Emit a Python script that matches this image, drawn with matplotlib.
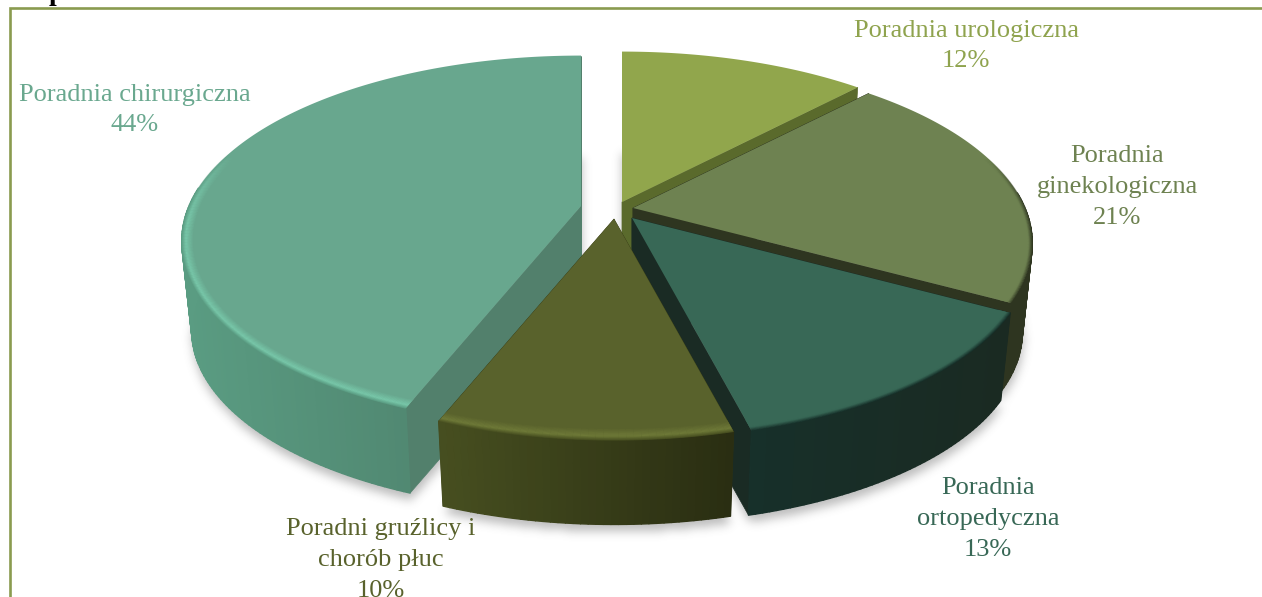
import numpy as np
import matplotlib
matplotlib.use('Agg')
import matplotlib.pyplot as plt
from matplotlib.collections import PolyCollection, LineCollection
from matplotlib.colors import to_rgb
from matplotlib.path import Path

# Dane (kolejnosc zgodnie z ruchem wskazowek zegara od godz. 12)
names = ['Poradnia urologiczna', 'Poradnia\nginekologiczna', 'Poradnia\nortopedyczna',
         'Poradni gruźlicy i\nchorób płuc', 'Poradnia chirurgiczna']
values = [12, 21, 13, 10, 44]

# Kolory
top_colors = ['#91a64c', '#6e8251', '#386856', '#59622c', '#68a78e']
wall_left = ['#5a6a2c', '#2e3520', '#17302a', '#474f20', '#5a9c82']
wall_right = ['#5a6a2c', '#2e3520', '#1a2a22', '#2a2e12', '#4a7a66']
cut_colors = ['#5a6a2c', '#2e3520', '#1a2b24', '#3a4018', '#52806c']
rim_colors = ['#91a64c', '#6e8251', '#386856', '#6f7a38', '#78c8aa']
text_colors = ['#8fa34e', '#6e8251', '#386856', '#59622c', '#6aa88f']

# Geometria rysunku (piksele)
apex = [(622, 202), (633, 208), (632, 218), (614, 219), (581, 206)]
label_pos = [(966, 46), (1117, 187), (988, 519), (381, 560), (135, 110)]
R, RY, K = 392, 179, 0.19
DEPTH, SHRINK = 90, 0.975
BEVEL = 12

fig = plt.figure(figsize=(12.62, 5.97), dpi=100)
ax = fig.add_axes([0, 0, 1, 1])
ax.set_xlim(0, 1262)
ax.set_ylim(597, 0)
ax.axis('off')


def rim(a, theta, bottom=False):
    # punkt na krawedzi wycinka, rzut z lekka perspektywa
    den = 1 + K * np.cos(theta)
    dx, dy = R * np.sin(theta) / den, -RY * np.cos(theta) / den
    if bottom:
        return np.column_stack([a[0] + SHRINK * dx, a[1] + DEPTH + SHRINK * dy])
    return np.column_stack([a[0] + dx, a[1] + dy])


def lerp(c1, c2, t):
    return tuple(np.array(to_rgb(c1)) * (1 - t) + np.array(to_rgb(c2)) * t)


edges = np.radians(np.cumsum([0] + values) * 3.6)
arcs = [np.linspace(edges[i], edges[i + 1], max(values[i] * 4, 8)) for i in range(len(values))]

# Cien pod wykresem
gx, gy = np.meshgrid(np.arange(0, 1262, 2), np.arange(0, 597, 2))
pts = np.column_stack([gx.ravel(), gy.ravel()])
mask = np.zeros(gx.shape)
for a, th in zip(apex, arcs):
    poly = np.vstack([[a[0], a[1] + DEPTH], rim(a, th, True)]) + [0, 7]
    mask[Path(poly).contains_points(pts).reshape(gx.shape)] = 1
kernel = np.exp(-np.linspace(-2.5, 2.5, 13) ** 2 / 2)
kernel /= kernel.sum()
mask = np.apply_along_axis(lambda m: np.convolve(m, kernel, mode='same'), 0, mask)
mask = np.apply_along_axis(lambda m: np.convolve(m, kernel, mode='same'), 1, mask)
shadow = np.zeros(mask.shape + (4,))
shadow[..., :3] = 0.35
shadow[..., 3] = mask * 0.4
ax.imshow(shadow, extent=(0, 1262, 597, 0), aspect='auto', zorder=1, interpolation='bilinear')
ax.set_xlim(0, 1262)
ax.set_ylim(597, 0)

# Wycinki od tylu do przodu: chirurgiczna, urologiczna, ginekologiczna, ortopedyczna, gruzlicy
order = [4, 0, 1, 2, 3]
z = 2
for i in order:
    a, th = apex[i], arcs[i]
    top = rim(a, th)
    bot = rim(a, th, True)
    a_low = (a[0], a[1] + DEPTH)

    # sciany przekroju
    for j in (0, -1):
        wall = [a, top[j], bot[j], a_low]
        ax.fill([p[0] for p in wall], [p[1] for p in wall], color=cut_colors[i], lw=0.5, zorder=z)

    # sciana boczna z gradientem (tylko od strony widza)
    quads, cols = [], []
    x0, x1 = top[:, 0].min(), top[:, 0].max()
    for k in range(len(th) - 1):
        if np.cos(th[k]) > 0.1:
            continue
        quads.append([top[k], top[k + 1], bot[k + 1], bot[k]])
        cols.append(lerp(wall_left[i], wall_right[i], (top[k, 0] - x0) / (x1 - x0)))
    if quads:
        ax.add_collection(PolyCollection(quads, facecolors=cols, edgecolors=cols, linewidths=1.0, zorder=z + 0.1))

    # wierzch
    face = np.vstack([[a], top])
    ax.fill(face[:, 0], face[:, 1], color=top_colors[i], lw=0, zorder=z + 0.2)

    # zaokraglona krawedz
    for b in np.linspace(0, BEVEL, 16):
        t = b / BEVEL
        if t < 0.35:
            col = np.array(lerp(wall_left[i], rim_colors[i], t / 0.35))
        else:
            col = np.array(lerp(rim_colors[i], top_colors[i], (t - 0.35) / 0.65))
        d = top - np.array(a)
        inner = top - b * d / np.linalg.norm(d, axis=1, keepdims=True)
        front = np.clip((0.3 - np.cos(th[:-1])) / 0.4, 0, 1)
        segs = np.stack([inner[:-1], inner[1:]], axis=1)
        rgba = np.column_stack([np.tile(col, (len(segs), 1)), front])
        ax.add_collection(LineCollection(segs, colors=rgba, linewidths=0.8, zorder=z + 0.3))
    z += 1

# Ramka
ax.plot([9.5, 9.5, 1262], [597, 8, 8], color='#8a9b4f', lw=1.9, zorder=20, solid_joinstyle='miter')
ax.text(56, 0, 'p', family='Liberation Serif', weight='bold', fontsize=20, color='black',
        ha='center', va='baseline', zorder=21, clip_on=True)

# Etykiety
for name, v, pos, c in zip(names, values, label_pos, text_colors):
    ax.text(pos[0], pos[1], f'{name}\n{v}%', family='Liberation Serif', fontsize=19, color=c,
            ha='center', va='center', linespacing=1.52, zorder=22)

fig.savefig('out.png', dpi=100, facecolor='white')
